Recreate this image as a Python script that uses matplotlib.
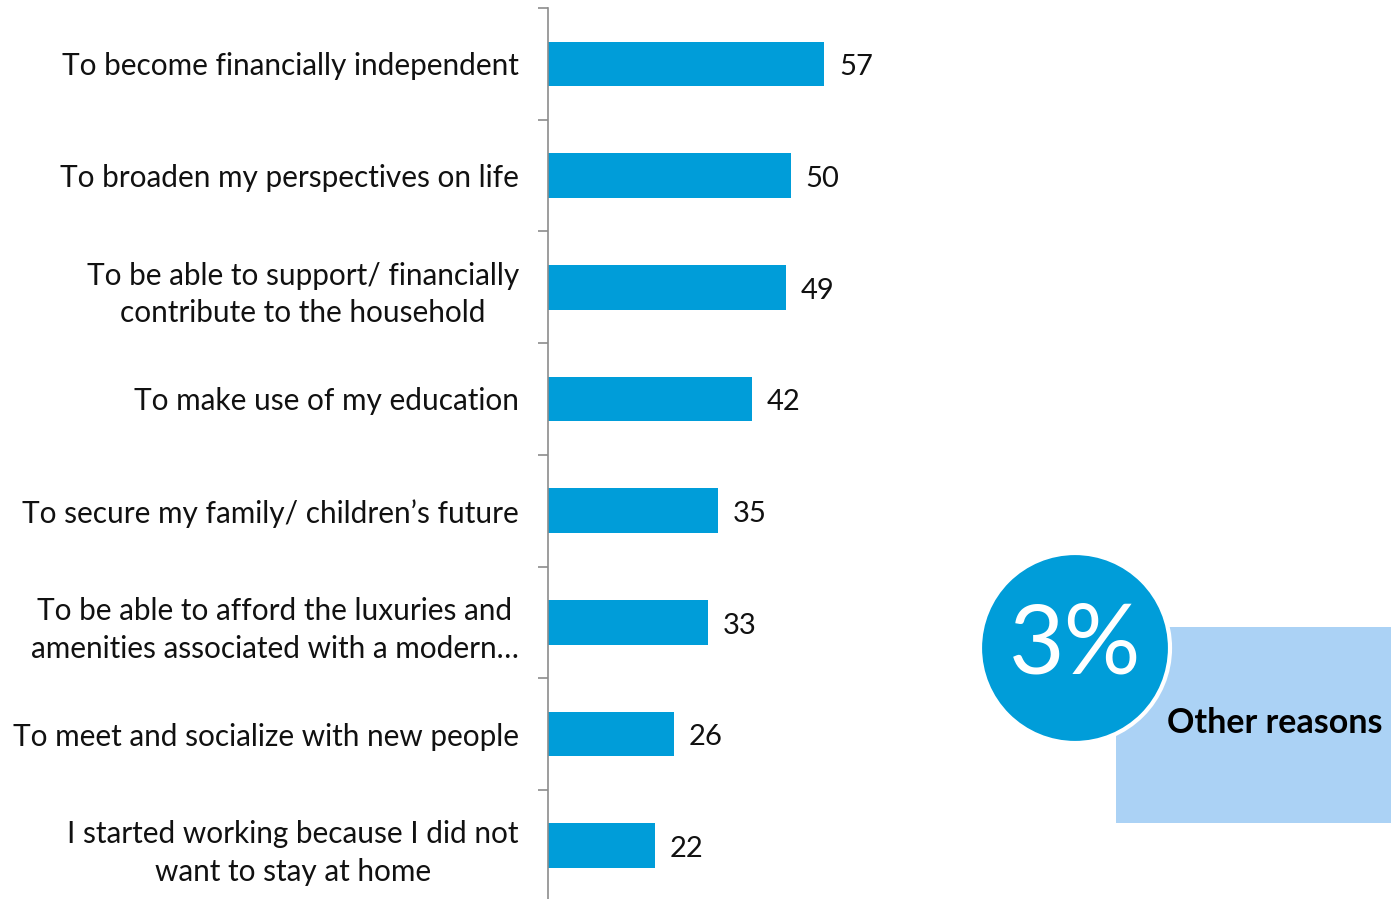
import numpy as np
import matplotlib.pyplot as plt
from matplotlib.patches import Circle, Rectangle

# reasons for working, % of respondents
reasons = [
    "To become financially independent",
    "To broaden my perspectives on life",
    "To be able to support/ financially\ncontribute to the household",
    "To make use of my education",
    "To secure my family/ children\u2019s future",
    "To be able to afford the luxuries and\namenities associated with a modern\u2026",
    "To meet and socialize with new people",
    "I started working because I did not\nwant to stay at home",
]
shares = [57, 50, 49, 42, 35, 33, 26, 22]
other_share = 3
other_label = "Other reasons"

BAR = "#009DD9"
W, H = 1391, 899

plt.rcParams['font.family'] = ['Lato', 'DejaVu Sans']

fig = plt.figure(figsize=(W / 100, H / 100), dpi=100)

# bar axes placed in pixel terms: left spine at x=548, rows 111.7 px tall
left, top = 548, 8
row_h = 111.7
n = len(reasons)
px_per_unit = 4.85
xmax = 100
ax = fig.add_axes([left / W, 1 - (top + row_h * n) / H,
                   px_per_unit * xmax / W, row_h * n / H])

y = np.arange(n)
ax.barh(y, shares, height=0.4, color=BAR)
ax.set_xlim(0, xmax)
ax.set_ylim(n - 0.5, -0.5)

for yi, v in zip(y, shares):
    ax.text(v + 15 / px_per_unit, yi + 0.03, str(v), va='center', ha='left',
            fontsize=21, color='#111111')

for s in ['top', 'right', 'bottom']:
    ax.spines[s].set_visible(False)
ax.spines['left'].set_color('#8c8c8c')
ax.spines['left'].set_linewidth(1.2)
ax.set_xticks([])

# tick marks at row boundaries, labels centred on rows
ax.set_yticks(np.arange(-0.5, n, 1.0))
ax.set_yticklabels([])
ax.tick_params(axis='y', which='major', length=7, width=1.2, color='#8c8c8c')
ax.set_yticks(y, minor=True)
ax.set_yticklabels(reasons, minor=True, fontsize=21.4, color='#111111',
                   multialignment='center', linespacing=1.42)
ax.tick_params(axis='y', which='minor', length=0, pad=21)

# "other reasons" callout
ov = fig.add_axes([0, 0, 1, 1])
ov.set_xlim(0, W)
ov.set_ylim(H, 0)
ov.axis('off')
ov.add_patch(Rectangle((1116, 627), 280, 196, facecolor='#ABD2F5',
                       edgecolor='none'))
ov.add_patch(Circle((1075, 648), 95, facecolor=BAR, edgecolor='white',
                    linewidth=3))
ov.text(1075, 646, f"{other_share}%", color='white', fontsize=69,
        ha='center', va='center')
ov.text(1275, 723, other_label, color='black', fontsize=24.5,
        fontweight='bold', ha='center', va='center')

fig.savefig('out.png', dpi=100)
